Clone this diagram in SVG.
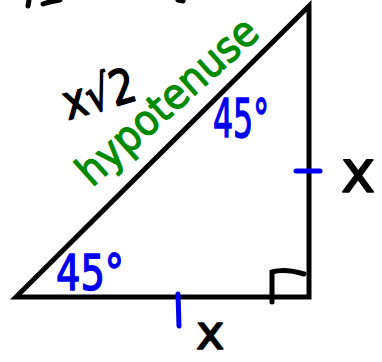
<svg xmlns="http://www.w3.org/2000/svg" width="382" height="362" viewBox="0 0 382 362">
<style>
.ln{fill:none;stroke:#000;stroke-width:5;stroke-linecap:round;stroke-linejoin:miter}
.tk{fill:none;stroke:#0000ee;stroke-width:5;stroke-linecap:round}
.t{font-family:"DejaVu Sans",sans-serif;stroke-linejoin:round}
.blk{fill:#000;stroke:#000;stroke-width:1.5}
.blu{fill:#0000ee;stroke:#0000ee;stroke-width:1.5}
.grn{fill:#008a00;stroke:#008a00;stroke-width:1.2}
</style>
<rect width="382" height="362" fill="#fff"/>
<g id="fragments">
<path class="ln" d="M29 0 L28 6 M43 4 Q52 1 60 0 M178 0 L183 1"/>
</g>
<g id="triangle">
<path class="ln" d="M16 297 L309 6 L309 297 Z"/>
<path class="ln" d="M272 302 L272 272 Q285 268 304 274"/>
</g>
<g id="ticks">
<path class="tk" d="M296 171 L320 171"/>
<path class="tk" d="M178 294 L179 326"/>
</g>
<g id="labels">
<text class="t grn" x="0" y="0" font-size="42" textLength="228" lengthAdjust="spacingAndGlyphs" transform="translate(92 188) rotate(-42)">hypotenuse</text>
<text class="t blk" x="0" y="0" font-size="48" textLength="74" lengthAdjust="spacingAndGlyphs" transform="translate(68 120) rotate(-16)">x√2</text>
<text class="t blu" x="213" y="137" font-size="54" textLength="56" lengthAdjust="spacingAndGlyphs">45°</text>
<text class="t blu" x="56" y="290" font-size="50" textLength="68" lengthAdjust="spacingAndGlyphs">45°</text>
<text class="t blk" x="341" y="192" font-size="58">x</text>
<text class="t blk" x="196" y="349" font-size="48">x</text>
</g>
</svg>
